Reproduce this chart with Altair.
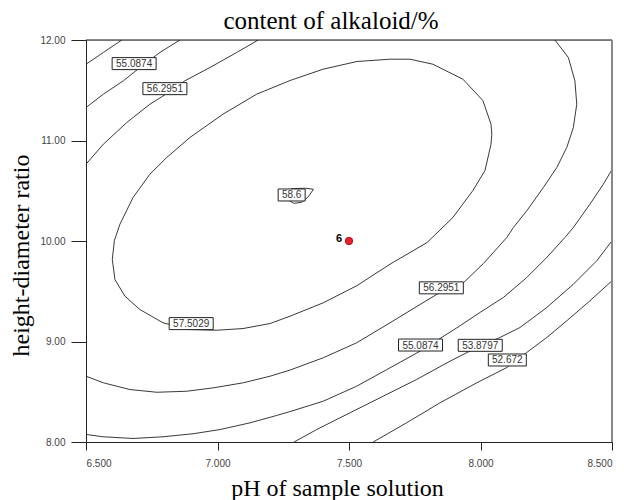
import altair as alt
import pandas as pd

# ---- contour traces (pH, height-diameter ratio) ----
c53_tl_ph = [6.500, 6.566, 6.636]
c53_tl_ratio = [11.759, 11.876, 12.000]

c55_tl_ph = [6.500, 6.566, 6.642, 6.705, 6.781, 6.857]
c55_tl_ratio = [11.328, 11.461, 11.594, 11.726, 11.876, 12.000]

c56_tl_ph = [6.500, 6.566, 6.655, 6.743, 6.800, 6.876, 6.971, 7.073, 7.155]
c56_tl_ratio = [10.764, 10.963, 11.179, 11.361, 11.455, 11.594, 11.726, 11.876, 12.000]

c575_ph = [6.600, 6.608, 6.629, 6.679, 6.743, 6.807, 6.895, 7.021, 7.149, 7.276, 7.401, 7.530,
           7.656, 7.732, 7.819, 7.933, 8.009, 8.040, 8.043, 8.040, 8.017, 7.971, 7.895, 7.797,
           7.656, 7.529, 7.402, 7.276, 7.200, 7.097, 6.997, 6.895, 6.793, 6.705, 6.648, 6.610, 6.600]
c575_ratio = [9.816, 10.005, 10.167, 10.433, 10.665, 10.831, 11.030, 11.262, 11.461, 11.597, 11.709, 11.786,
              11.809, 11.809, 11.759, 11.610, 11.398, 11.162, 11.063, 10.963, 10.701, 10.502, 10.234, 9.985,
              9.769, 9.554, 9.385, 9.252, 9.179, 9.129, 9.112, 9.119, 9.186, 9.318, 9.451, 9.617, 9.816]

c586_ph = [7.262, 7.290, 7.320, 7.345, 7.365, 7.335, 7.280, 7.262, 7.262]
c586_ratio = [10.420, 10.375, 10.385, 10.440, 10.515, 10.525, 10.520, 10.470, 10.420]

c56_ph = [6.500, 6.566, 6.667, 6.769, 6.883, 6.984, 7.098, 7.200, 7.276, 7.402, 7.529, 7.656, 7.770, 7.846,
          7.935, 8.011, 8.049, 8.100, 8.125, 8.176, 8.239, 8.290, 8.328, 8.353, 8.366, 8.359, 8.334, 8.283]
c56_ratio = [8.655, 8.589, 8.522, 8.495, 8.505, 8.539, 8.589, 8.655, 8.716, 8.838, 8.987, 9.186, 9.368, 9.488,
             9.584, 9.776, 9.886, 10.035, 10.134, 10.301, 10.532, 10.731, 10.930, 11.129, 11.361, 11.594, 11.826, 12.000]

c55_ph = [6.500, 6.565, 6.679, 6.793, 6.907, 7.010, 7.124, 7.225, 7.276, 7.402, 7.529, 7.656, 7.770, 7.910,
          7.998, 8.087, 8.176, 8.252, 8.321, 8.353, 8.416, 8.467, 8.500]
c55_ratio = [8.075, 8.052, 8.035, 8.052, 8.082, 8.124, 8.191, 8.264, 8.303, 8.406, 8.555, 8.738, 8.903, 9.136,
             9.289, 9.438, 9.637, 9.836, 10.035, 10.134, 10.366, 10.565, 10.711]

c53_ph = [7.291, 7.377, 7.504, 7.630, 7.757, 7.884, 7.986, 8.074, 8.150, 8.252, 8.353, 8.442, 8.500]
c53_ratio = [8.000, 8.124, 8.291, 8.456, 8.622, 8.804, 8.940, 9.040, 9.139, 9.338, 9.570, 9.803, 10.002]

c52_ph = [7.592, 7.719, 7.846, 7.986, 8.100, 8.176, 8.252, 8.328, 8.416, 8.500]
c52_ratio = [8.000, 8.191, 8.390, 8.589, 8.741, 8.891, 9.040, 9.206, 9.405, 9.604]

# ---- contour labels ----
label_text = ["55.0874", "56.2951", "58.6", "57.5029", "56.2951", "55.0874", "53.8797", "52.672"]
label_ph = [6.683, 6.800, 7.282, 6.900, 7.851, 7.772, 7.999, 8.102]
label_ratio = [11.765, 11.516, 10.458, 9.178, 9.534, 8.965, 8.962, 8.816]

# ---- design point ----
pt_ph = [7.5]
pt_ratio = [10.0]
pt_label = ["6"]

x_ticks = [6.5, 7.0, 7.5, 8.0, 8.5]
y_ticks = [8, 9, 10, 11, 12]

segments = [
    ("c53_tl", c53_tl_ph, c53_tl_ratio),
    ("c55_tl", c55_tl_ph, c55_tl_ratio),
    ("c56_tl", c56_tl_ph, c56_tl_ratio),
    ("c575", c575_ph, c575_ratio),
    ("c586", c586_ph, c586_ratio),
    ("c56", c56_ph, c56_ratio),
    ("c55", c55_ph, c55_ratio),
    ("c53", c53_ph, c53_ratio),
    ("c52", c52_ph, c52_ratio),
]
rows = []
for seg, xs, ys in segments:
    for i, (a, b) in enumerate(zip(xs, ys)):
        rows.append({"seg": seg, "idx": i, "pH": a, "ratio": b})
lines_df = pd.DataFrame(rows)

labels_df = pd.DataFrame({"text": label_text, "pH": label_ph, "ratio": label_ratio})
labels_df["n"] = labels_df["text"].str.len()
pt_df = pd.DataFrame({"pH": pt_ph, "ratio": pt_ratio, "label": pt_label})

W, H = 526, 402

xscale = alt.Scale(domain=[6.5, 8.5], nice=False, zero=False)
yscale = alt.Scale(domain=[8, 12], nice=False, zero=False)

xenc = alt.X("pH:Q", scale=xscale, axis=alt.Axis(
    values=x_ticks, format=".3f", title="pH of sample solution",
    tickSize=8, labelPadding=8, labelFont="Liberation Sans", labelFontSize=10,
    labelColor="#444", domainColor="#222", tickColor="#222", grid=False,
    titleFont="Liberation Serif", titleFontSize=24, titleFontWeight="normal",
    titleColor="black", titleX=251, titleY=53, titleBaseline="alphabetic", titleAlign="center"))
yenc = alt.Y("ratio:Q", scale=yscale, axis=alt.Axis(
    values=y_ticks, format=".2f", title="height-diameter ratio",
    tickSize=15, labelPadding=6, labelFont="Liberation Sans", labelFontSize=10,
    labelColor="#444", domainColor="#222", tickColor="#222", grid=False,
    titleFont="Liberation Serif", titleFontSize=24, titleFontWeight="normal",
    titleColor="black", titleX=-65, titleY=215, titleAngle=270,
    titleBaseline="middle", titleAlign="center"))

xplain = alt.X("pH:Q", scale=xscale)
yplain = alt.Y("ratio:Q", scale=yscale)

contours = alt.Chart(lines_df).mark_line(color="#222", strokeWidth=0.9, clip=True).encode(
    x=xenc, y=yenc, detail="seg:N", order="idx:Q")

def boxes(n, w):
    return alt.Chart(labels_df).transform_filter(alt.datum.n == n).mark_rect(
        width=w, height=12, fill="white", stroke="#222", strokeWidth=1).encode(x=xplain, y=yplain)

box7 = boxes(7, 44)
box6 = boxes(6, 38)
box4 = boxes(4, 27)

label_txt = alt.Chart(labels_df).mark_text(
    font="Liberation Sans", fontSize=10, color="#333", align="center", baseline="middle", dy=0.5
).encode(x=xplain, y=yplain, text="text:N")

point = alt.Chart(pt_df).mark_point(
    shape="circle", filled=True, size=55, color="#e8202a", stroke="#a00000", strokeWidth=0.8, opacity=1
).encode(x=xplain, y=yplain)
point_lbl = alt.Chart(pt_df).mark_text(
    font="Liberation Sans", fontSize=11, fontWeight="bold", color="black",
    align="right", baseline="middle", dx=-7, dy=-2
).encode(x=xplain, y=yplain, text="label:N")

top_edge = alt.Chart(pt_df).mark_rule(color="#111", strokeWidth=1).encode(
    x=alt.value(0), x2=alt.value(W), y=alt.value(0))
right_edge = alt.Chart(pt_df).mark_rule(color="#888", strokeWidth=2).encode(
    x=alt.value(W), y=alt.value(0), y2=alt.value(H))

chart = alt.layer(contours, box7, box6, box4, label_txt, point, point_lbl, top_edge, right_edge).properties(
    width=W, height=H,
    title=alt.TitleParams("content of alkaloid/%", font="Liberation Serif", fontSize=25,
                          fontWeight="normal", color="black", anchor="middle", dx=-18,
                          offset=1, frame="group"),
    autosize=alt.AutoSizeParams(type="none"),
    padding={"left": 78, "top": 32, "right": 5, "bottom": 58},
).configure_view(stroke=None).configure(background="white")

chart.save("out.html", embed_options={"renderer": "svg", "actions": False})
